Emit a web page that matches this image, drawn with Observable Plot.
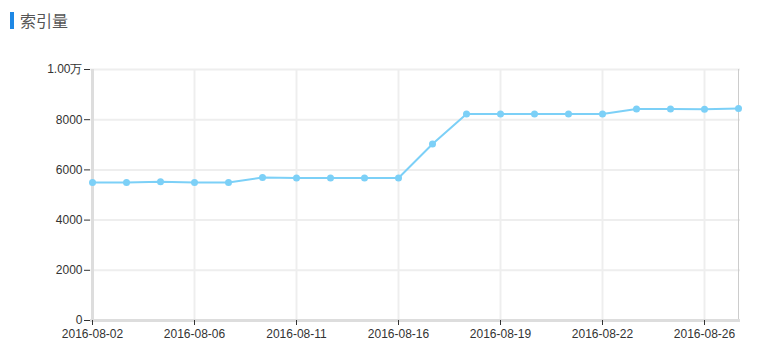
<!DOCTYPE html>
<html>
<head>
<meta charset="utf-8">
<script src="https://cdn.jsdelivr.net/npm/d3@7"></script>
<script src="https://cdn.jsdelivr.net/npm/@observablehq/plot@0.6"></script>
<style>
  body { margin: 0; background: #fff; width: 772px; height: 361px; overflow: hidden; }
  #title { position: relative; height: 40px; }
  #title .bar { position: absolute; left: 10px; top: 12px; width: 4px; height: 17px; background: #1e88e5; }
  #title .txt { position: absolute; left: 20px; top: 9px; font: 16px "Noto Sans CJK SC", sans-serif; color: #555; line-height: 22px; }
  svg { display: block; }
</style>
</head>
<body>
<div id="title"><div class="bar"></div><div class="txt">索引量</div></div>
<div id="chart"></div>
<script>
const dates = ["2016-08-02","2016-08-03","2016-08-04","2016-08-06","2016-08-07","2016-08-09","2016-08-11","2016-08-13","2016-08-15","2016-08-16","2016-08-17","2016-08-18","2016-08-19","2016-08-20","2016-08-21","2016-08-22","2016-08-23","2016-08-25","2016-08-26","2016-08-27"];
const values = [5500, 5500, 5530, 5500, 5500, 5700, 5680, 5680, 5680, 5680, 7030, 8230, 8230, 8230, 8230, 8230, 8430, 8430, 8420, 8450];
const xTickLabels = ["2016-08-02","2016-08-06","2016-08-11","2016-08-16","2016-08-19","2016-08-22","2016-08-26"];
const yTicks = [0, 2000, 4000, 6000, 8000, 10000];

const data = dates.map((d, i) => ({date: d, value: values[i]}));
const lineColor = "#7cd0f7";

const chart = Plot.plot({
  width: 772,
  height: 321,
  marginLeft: 90,
  marginRight: 32,
  marginTop: 29,
  marginBottom: 41,
  style: {fontFamily: "'Liberation Sans', Arial, sans-serif", fontSize: "12px", color: "#333", background: "#fff"},
  x: {type: "point", domain: dates, padding: 0},
  y: {domain: [0, 10000]},
  marks: [
    Plot.ruleY(yTicks.filter(d => d > 0), {stroke: "#eeeeee", strokeWidth: 2}),
    Plot.ruleX(xTickLabels.slice(1), {stroke: "#eeeeee", strokeWidth: 2}),
    Plot.ruleX([dates[dates.length - 1]], {stroke: "#cccccc", strokeWidth: 1}),
    Plot.ruleX([dates[0]], {stroke: "#dddddd", strokeWidth: 3}),
    Plot.ruleY([0], {stroke: "#dddddd", strokeWidth: 3}),
    Plot.axisY({ticks: yTicks, tickSize: 6, tickPadding: 2, tickFormat: d => d === 10000 ? "1.00万" : String(d), stroke: "#333", fill: "#333", label: null}),
    Plot.axisX({ticks: xTickLabels, tickSize: 5, tickPadding: 4, stroke: "#333", fill: "#333", label: null}),
    Plot.line(data, {x: "date", y: "value", stroke: lineColor, strokeWidth: 2}),
    Plot.dot(data, {x: "date", y: "value", fill: lineColor, r: 3.5})
  ]
});
document.getElementById("chart").appendChild(chart);
</script>
</body>
</html>
